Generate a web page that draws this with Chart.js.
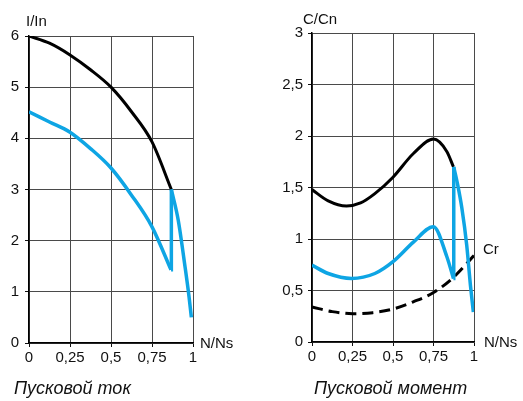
<!DOCTYPE html>
<html>
<head>
<meta charset="utf-8">
<script src="https://cdn.jsdelivr.net/npm/chart.js"></script>
<style>
  body { margin: 0; background: #fff; }
  #wrap { position: relative; width: 523px; height: 401px; }
  canvas { position: absolute; top: 0; }
  #current { left: 0; }
  #torque { left: 260px; }
</style>
</head>
<body>
<div id="wrap">
  <canvas id="current" width="260" height="401"></canvas>
  <canvas id="torque" width="263" height="401"></canvas>
</div>
<script>
// Пусковой ток (I/In vs N/Ns)
var currentDirectX = [0, 0.125, 0.25, 0.375, 0.5, 0.625, 0.75, 0.868];
var currentDirectY = [6.0, 5.86, 5.63, 5.34, 5.0, 4.52, 3.93, 3.0];
var currentStartX = [0, 0.125, 0.25, 0.375, 0.5, 0.625, 0.75, 0.866];
var currentStartY = [4.52, 4.32, 4.12, 3.80, 3.42, 2.89, 2.27, 1.43];
var currentRunX = [0.868, 0.91, 0.951, 0.976, 0.99];
var currentRunY = [3.0, 2.40, 1.50, 0.90, 0.50];

// Пусковой момент (C/Cn vs N/Ns)
var torqueDirectX = [0, 0.1, 0.213, 0.3, 0.388, 0.5, 0.626, 0.75, 0.832, 0.873];
var torqueDirectY = [1.48, 1.37, 1.32, 1.35, 1.44, 1.60, 1.83, 1.97, 1.85, 1.70];
var torqueStartX = [0, 0.1, 0.244, 0.388, 0.5, 0.626, 0.75, 0.832, 0.873];
var torqueStartY = [0.746, 0.665, 0.617, 0.665, 0.78, 0.97, 1.12, 0.83, 0.617];
var torqueRunX = [0.875, 0.9, 0.925, 0.955, 0.978, 0.996];
var torqueRunY = [1.70, 1.52, 1.30, 0.94, 0.55, 0.29];
var loadTorqueX = [0, 0.125, 0.25, 0.375, 0.5, 0.625, 0.75, 0.875, 1];
var loadTorqueY = [0.34, 0.295, 0.275, 0.285, 0.32, 0.39, 0.48, 0.63, 0.84];

var BLUE = '#0ea5e4';
var FONT = 'Liberation Sans, Arial, sans-serif';

function pts(xs, ys) {
    return xs.map(function (x, i) { return {x: x, y: ys[i]}; });
}
function jump(xsA, ysA, xsB, ysB) {
    // vertical switch line: end of the first part to start of the second
    return [{x: xsA[xsA.length - 1], y: ysA[ysA.length - 1]}, {x: xsB[0], y: ysB[0]}];
}
function comma(v) {
    return String(v).replace('.', ',');
}
function line(data, color, width, extra) {
    var ds = {
        data: data,
        borderColor: color,
        borderWidth: width,
        pointRadius: 0,
        fill: false,
        tension: 0.4,
        cubicInterpolationMode: 'monotone',
        borderCapStyle: 'butt'
    };
    for (var k in extra) ds[k] = extra[k];
    return ds;
}

// draws the axis names, captions and the Cr mark
function texts(items) {
    return {
        id: 'texts',
        afterDraw: function (chart) {
            var ctx = chart.ctx;
            var a = chart.chartArea;
            ctx.save();
            ctx.fillStyle = '#111';
            ctx.textBaseline = 'alphabetic';
            ctx.textAlign = 'left';
            items.forEach(function (it) {
                var p = it.pos(a, chart.scales);
                ctx.font = it.font;
                ctx.fillText(it.text, p[0], p[1]);
            });
            ctx.restore();
        }
    };
}

function axes(yMax, yStep, yWidth, xHeight, yPad) {
    var grid = {color: '#4a4a4a', lineWidth: 1, tickLength: 4, tickColor: '#111', drawTicks: true};
    return {
        x: {
            type: 'linear', min: 0, max: 1,
            grid: grid,
            border: {color: '#000', width: 1.5},
            ticks: {stepSize: 0.25, color: '#111', font: {family: FONT, size: 15}, padding: 2,
                    maxRotation: 0, callback: function (v) { return comma(v); }},
            afterFit: function (s) { s.height = xHeight; }
        },
        y: {
            min: 0, max: yMax,
            grid: grid,
            border: {color: '#000', width: 1.5},
            ticks: {stepSize: yStep, color: '#111', font: {family: FONT, size: 15}, padding: yPad,
                    callback: function (v) { return comma(v); }},
            afterFit: function (s) { s.width = yWidth; }
        }
    };
}

new Chart(document.getElementById('current'), {
    type: 'line',
    data: {
        datasets: [
            line(pts(currentStartX, currentStartY), BLUE, 3.5),
            line(jump(currentStartX, currentStartY, currentRunX, currentRunY), BLUE, 3.5, {tension: 0, cubicInterpolationMode: 'default'}),
            line(pts(currentRunX, currentRunY), BLUE, 3.5),
            line(pts(currentDirectX, currentDirectY), '#000', 3)
        ]
    },
    options: {
        responsive: false,
        animation: false,
        layout: {padding: {left: 0, right: 67, top: 36, bottom: 0}},
        scales: axes(6, 1, 29, 58, 6),
        plugins: {legend: {display: false}, tooltip: {enabled: false}}
    },
    plugins: [texts([
        {text: 'I/In', font: '15px ' + FONT, pos: function (a) { return [a.left - 3, a.top - 10]; }},
        {text: 'N/Ns', font: '15px ' + FONT, pos: function (a) { return [a.right + 7, a.bottom + 5]; }},
        {text: 'Пусковой ток', font: 'italic 18px ' + FONT, pos: function (a) { return [14, 394]; }}
    ])]
});

new Chart(document.getElementById('torque'), {
    type: 'line',
    data: {
        datasets: [
            line(pts(torqueStartX, torqueStartY), BLUE, 3.5),
            line(jump(torqueStartX, torqueStartY, torqueRunX, torqueRunY), BLUE, 3.5, {tension: 0, cubicInterpolationMode: 'default'}),
            line(pts(torqueRunX, torqueRunY), BLUE, 3.5),
            line(pts(torqueDirectX, torqueDirectY), '#000', 3),
            line(pts(loadTorqueX, loadTorqueY), '#000', 3, {borderDash: [11, 6]})
        ]
    },
    options: {
        responsive: false,
        animation: false,
        layout: {padding: {left: 0, right: 49, top: 33, bottom: 0}},
        scales: axes(3, 0.5, 52, 59, 5),
        plugins: {legend: {display: false}, tooltip: {enabled: false}}
    },
    plugins: [texts([
        {text: 'C/Cn', font: '15px ' + FONT, pos: function (a) { return [a.left - 9, a.top - 9]; }},
        {text: 'N/Ns', font: '15px ' + FONT, pos: function (a) { return [a.right + 10, a.bottom + 5]; }},
        {text: 'Cr', font: '15px ' + FONT, pos: function (a, s) {
            return [a.right + 9, s.y.getPixelForValue(loadTorqueY[loadTorqueY.length - 1]) - 1];
        }},
        {text: 'Пусковой момент', font: 'italic 18px ' + FONT, pos: function (a) { return [54, 394]; }}
    ])]
});
</script>
</body>
</html>
